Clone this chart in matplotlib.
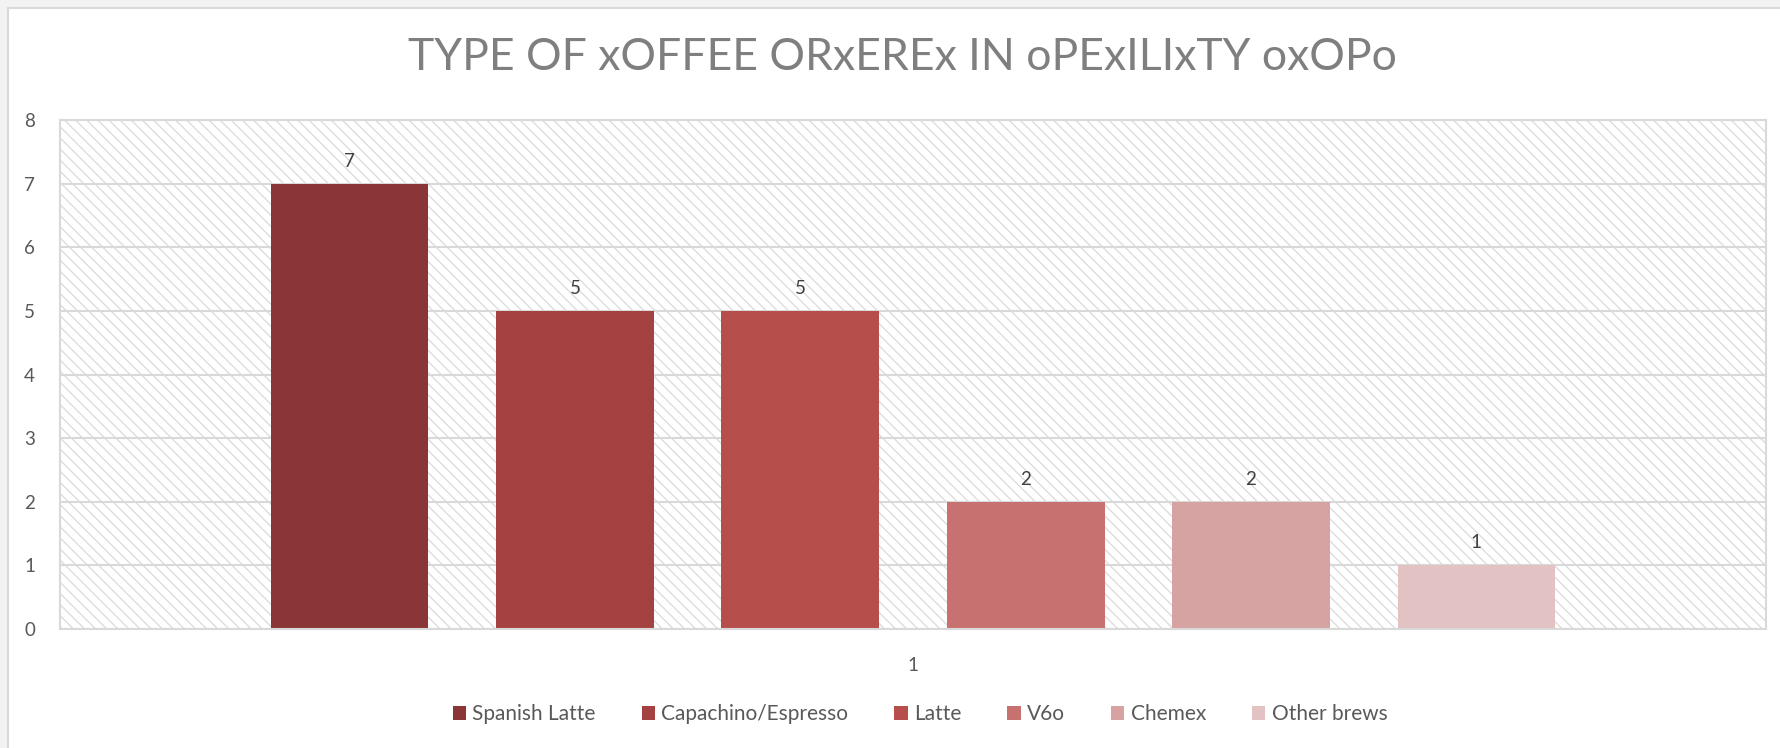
import matplotlib.pyplot as plt
from matplotlib.patches import Rectangle
import numpy as np

# dados
categorias = ['Spanish Latte', 'Capachino/Espresso', 'Latte', 'V6o', 'Chemex', 'Other brews']
valores = [7, 5, 5, 2, 2, 1]
cores = ['#8b3636', '#a34240', '#b64e4c', '#c87171', '#d7a2a2', '#e2c2c3']
titulo = 'TYPE OF xOFFEE ORxEREx IN oPExILIxTY oxOPo'
rotulo_categoria = '1'

plt.rcParams['font.family'] = ['Lato', 'DejaVu Sans']
plt.rcParams['hatch.linewidth'] = 0.9

fig = plt.figure(figsize=(17.81, 7.48), dpi=100)
fig.patch.set_facecolor('#f2f2f2')

# area branca do grafico com borda
W, H = 1781, 748
fundo = Rectangle((8 / W, -0.05), 1.1, 1.05 - 8 / H, transform=fig.transFigure,
                  facecolor='white', edgecolor='#d9d9d9', lw=1.5, zorder=-10)
fig.patches.append(fundo)

left, right, top, bottom = 60, 1766, 120, 629
ax = fig.add_axes([left / W, 1 - bottom / H, (right - left) / W, (bottom - top) / H])
ax.set_facecolor('white')

hachura = Rectangle((0, 0), 1, 1, transform=ax.transAxes, facecolor='white',
                    edgecolor='#dadada', hatch='\\\\\\', lw=0, zorder=0)
ax.add_patch(hachura)

x = np.arange(len(categorias))
barras = ax.bar(x, valores, width=0.7, color=cores, zorder=3)
for barra, nome in zip(barras, categorias):
    barra.set_label(nome)

for barra in barras:
    altura = barra.get_height()
    ax.annotate('{}'.format(altura),
                xy=(barra.get_x() + barra.get_width() / 2, altura),
                xytext=(0, 10), textcoords='offset points',
                ha='center', va='bottom', fontsize=13.5, color='#404040')

ax.set_xlim(-1.285, 6.285)
ax.set_ylim(0, 8)
ax.set_yticks(range(0, 9))
ax.yaxis.grid(True, color='#d9d9d9', lw=1.5, zorder=1)
ax.set_axisbelow(False)
ax.tick_params(axis='y', length=0, pad=18, labelsize=13.5, labelcolor='#595959')
ax.set_xticks([2.5])
ax.set_xticklabels([rotulo_categoria])
ax.tick_params(axis='x', length=0, pad=20, labelsize=13.5, labelcolor='#595959')
for lado in ax.spines.values():
    lado.set_color('#d9d9d9')
    lado.set_linewidth(1.5)
    lado.set_zorder(4)

fig.text(902 / W, 1 - 57 / H, titulo, ha='center', va='center',
         fontsize=32, color='#7f7f7f')

fig.legend(handles=list(barras), loc='center', bbox_to_anchor=(920 / W, 1 - 714 / H),
           ncol=6, frameon=False, fontsize=15, labelcolor='#595959',
           handlelength=0.65, handleheight=0.65, handletextpad=0.3, columnspacing=2.2)

fig.savefig('out.png', dpi=100, facecolor=fig.get_facecolor())
